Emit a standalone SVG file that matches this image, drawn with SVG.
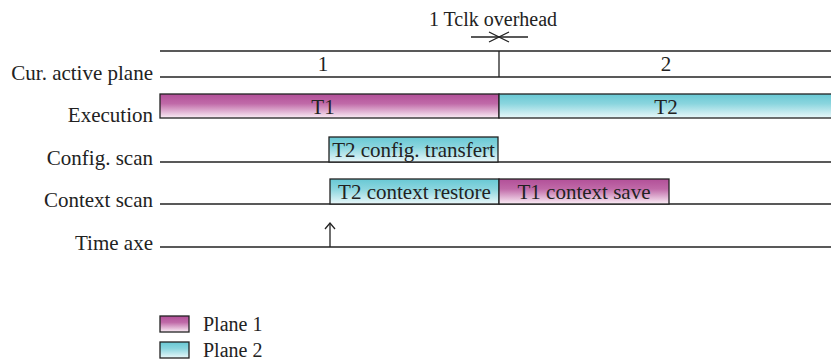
<svg xmlns="http://www.w3.org/2000/svg" width="831" height="362" viewBox="0 0 831 362">
<defs>
<linearGradient id="gP1" x1="0" y1="0" x2="0" y2="1">
<stop offset="0" stop-color="#b24f98"/>
<stop offset="0.4" stop-color="#c06aa8"/>
<stop offset="1" stop-color="#fbeef6"/>
</linearGradient>
<linearGradient id="gP2" x1="0" y1="0" x2="0" y2="1">
<stop offset="0" stop-color="#68c8d4"/>
<stop offset="0.4" stop-color="#8ad5de"/>
<stop offset="1" stop-color="#eaf8fa"/>
</linearGradient>
</defs>
<style>
text{font-family:"Liberation Serif","Times New Roman",serif;fill:#222;}
.lbl{font-size:21px;text-anchor:end;}
.in{font-size:21px;text-anchor:middle;}
.lg{font-size:20px;}
.ln{stroke:#222;stroke-width:1.3;fill:none;}
.p1{fill:url(#gP1);stroke:#222;stroke-width:1.3;}
.p2{fill:url(#gP2);stroke:#222;stroke-width:1.3;}
</style>
<rect width="831" height="362" fill="#fff"/>
<g id="labels">
<text class="lbl" x="153" y="80">Cur. active plane</text>
<text class="lbl" x="153" y="122">Execution</text>
<text class="lbl" x="153" y="165">Config. scan</text>
<text class="lbl" x="153" y="207">Context scan</text>
<text class="lbl" x="153" y="250">Time axe</text>
</g>
<g id="connectors">
<line class="ln" x1="160" y1="51" x2="831" y2="51"/>
<line class="ln" x1="160" y1="77" x2="831" y2="77"/>
<line class="ln" x1="499" y1="51" x2="499" y2="77"/>
<line class="ln" x1="160" y1="162" x2="831" y2="162"/>
<line class="ln" x1="160" y1="204" x2="831" y2="204"/>
<line class="ln" x1="160" y1="247" x2="831" y2="247"/>
<line class="ln" x1="330" y1="247" x2="330" y2="223"/>
<polyline class="ln" points="325,229 330,223 335,229"/>
<line class="ln" x1="471" y1="37" x2="528" y2="37"/>
<polyline class="ln" points="489,32 499,37 489,42"/>
<polyline class="ln" points="509,32 499,37 509,42"/>
</g>
<g id="overhead">
<text class="lg" x="493" y="26" text-anchor="middle">1 Tclk overhead</text>
</g>
<g id="plane1-period"><text class="in" x="323" y="71">1</text></g>
<g id="plane2-period"><text class="in" x="666" y="71">2</text></g>
<g id="exec-t1">
<rect class="p1" x="160" y="94" width="339" height="24"/>
<text class="in" x="323" y="114">T1</text>
</g>
<g id="exec-t2">
<rect class="p2" x="499" y="94" width="333" height="24"/>
<text class="in" x="666" y="114">T2</text>
</g>
<g id="config-t2">
<rect class="p2" x="329" y="137" width="169" height="25"/>
<text class="in" x="413.5" y="157">T2 config. transfert</text>
</g>
<g id="ctx-restore">
<rect class="p2" x="330" y="179" width="169" height="25"/>
<text class="in" x="414.5" y="199">T2 context restore</text>
</g>
<g id="ctx-save">
<rect class="p1" x="499" y="179" width="170" height="25"/>
<text class="in" x="584" y="199">T1 context save</text>
</g>
<g id="legend-plane1">
<rect class="p1" x="160" y="316" width="29" height="16"/>
<text class="lg" x="203" y="331">Plane 1</text>
</g>
<g id="legend-plane2">
<rect class="p2" x="160" y="342" width="29" height="16"/>
<text class="lg" x="203" y="357">Plane 2</text>
</g>
</svg>
